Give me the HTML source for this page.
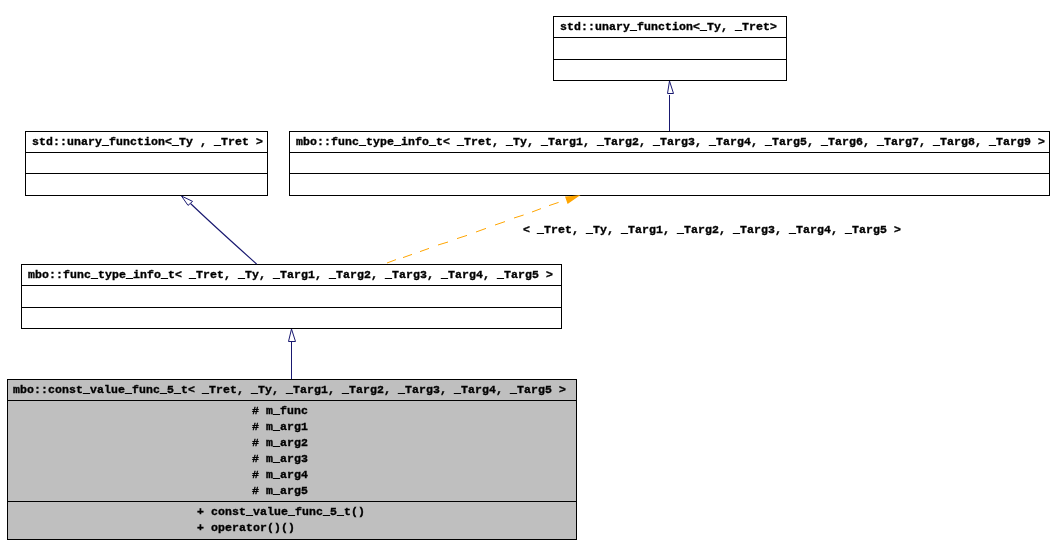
<!DOCTYPE html>
<html>
<head>
<meta charset="utf-8">
<title>mbo::const_value_func_5_t collaboration diagram</title>
<style>
html,body{margin:0;padding:0;background:#fff;}
body{width:1055px;height:556px;position:relative;overflow:hidden;
  font-family:"Liberation Mono","DejaVu Sans Mono",monospace;font-weight:bold;font-size:11.5px;letter-spacing:0.099px;color:#000;}
.box{position:absolute;box-sizing:border-box;border:1px solid #000;background:#fff;}
.box.g{background:#bfbfbf;}
.sep{position:absolute;left:0;right:0;height:1px;background:#000;}
.t{position:absolute;white-space:pre;line-height:16px;height:16px;margin:1px 0 0 0;-webkit-text-stroke:0.35px #000;will-change:transform;}
svg{position:absolute;left:0;top:0;}
</style>
</head>
<body>
<!-- node: std::unary_function<_Ty, _Tret> -->
<div class="box" style="left:553px;top:16px;width:234px;height:65px;">
  <div class="sep" style="top:20px"></div><div class="sep" style="top:42px"></div>
</div>
<div class="t" style="left:560px;top:18px;">std::unary_function&lt;_Ty, _Tret&gt;</div>

<!-- node: std::unary_function<_Ty , _Tret > -->
<div class="box" style="left:25px;top:131px;width:243px;height:65px;">
  <div class="sep" style="top:20px"></div><div class="sep" style="top:41px"></div>
</div>
<div class="t" style="left:32px;top:133px;">std::unary_function&lt;_Ty , _Tret &gt;</div>

<!-- node: mbo::func_type_info_t< ... _Targ9 > -->
<div class="box" style="left:289px;top:131px;width:761px;height:65px;">
  <div class="sep" style="top:20px"></div><div class="sep" style="top:41px"></div>
</div>
<div class="t" style="left:296px;top:133px;">mbo::func_type_info_t&lt; _Tret, _Ty, _Targ1, _Targ2, _Targ3, _Targ4, _Targ5, _Targ6, _Targ7, _Targ8, _Targ9 &gt;</div>

<!-- node: mbo::func_type_info_t< ... _Targ5 > -->
<div class="box" style="left:21px;top:264px;width:541px;height:65px;">
  <div class="sep" style="top:20px"></div><div class="sep" style="top:42px"></div>
</div>
<div class="t" style="left:28px;top:266px;">mbo::func_type_info_t&lt; _Tret, _Ty, _Targ1, _Targ2, _Targ3, _Targ4, _Targ5 &gt;</div>

<!-- node: mbo::const_value_func_5_t -->
<div class="box g" style="left:7px;top:379px;width:570px;height:161px;">
  <div class="sep" style="top:20px"></div><div class="sep" style="top:121px"></div>
</div>
<div class="t" style="left:13px;top:381px;">mbo::const_value_func_5_t&lt; _Tret, _Ty, _Targ1, _Targ2, _Targ3, _Targ4, _Targ5 &gt;</div>
<div class="t" style="left:252px;top:402px;"># m_func</div>
<div class="t" style="left:252px;top:418px;"># m_arg1</div>
<div class="t" style="left:252px;top:434px;"># m_arg2</div>
<div class="t" style="left:252px;top:450px;"># m_arg3</div>
<div class="t" style="left:252px;top:466px;"># m_arg4</div>
<div class="t" style="left:252px;top:482px;"># m_arg5</div>
<div class="t" style="left:197px;top:503px;">+ const_value_func_5_t()</div>
<div class="t" style="left:197px;top:519px;">+ operator()()</div>

<!-- edge label -->
<div class="t" style="left:523px;top:221px;">&lt; _Tret, _Ty, _Targ1, _Targ2, _Targ3, _Targ4, _Targ5 &gt;</div>

<svg width="1055" height="556" viewBox="0 0 1055 556">
  <!-- inheritance: const_value_func_5_t -> func_type_info_t<5> -->
  <g stroke="#191970" stroke-width="1" fill="none">
    <line x1="291.5" y1="341" x2="291.5" y2="379" shape-rendering="crispEdges"/>
    <polygon points="291.5,329 288.5,341.5 295.5,341.5" fill="#fff"/>
    <!-- func_type_info_t<9> -> std::unary_function -->
    <line x1="669.5" y1="95" x2="669.5" y2="131" shape-rendering="crispEdges"/>
    <polygon points="669.5,81 667.5,93.5 673.5,93.5" fill="#fff"/>
    <!-- func_type_info_t<5> -> std::unary_function<_Ty , _Tret > -->
    <path d="M256.6,264 C236.5,246 212,224 190.5,203.5" stroke-width="1.15"/>
    <polygon points="181.5,196 192.6,201.4 188,205.4" fill="#fff"/>
  </g>
  <!-- template instance edge (orange dashed) -->
  <g stroke="#ffa500" stroke-width="1" fill="none">
    <line x1="387" y1="263" x2="396" y2="259.6"/>
    <line x1="403" y1="257.6" x2="412" y2="254.4"/>
    <line x1="420" y1="251.6" x2="429" y2="248.4"/>
    <line x1="438" y1="245" x2="448" y2="242"/>
    <line x1="457" y1="238.6" x2="467" y2="235.4"/>
    <line x1="476" y1="232" x2="486" y2="228.4"/>
    <line x1="495" y1="225" x2="505" y2="221.6"/>
    <line x1="514" y1="218" x2="523.6" y2="215"/>
    <line x1="532" y1="212" x2="541" y2="208.6"/>
    <line x1="549" y1="205.6" x2="558.6" y2="202.4"/>
    <polygon points="580.5,195 572,195.9 565,196.4 567.6,204" fill="#ffa500" stroke="none"/>
  </g>
</svg>
</body>
</html>
